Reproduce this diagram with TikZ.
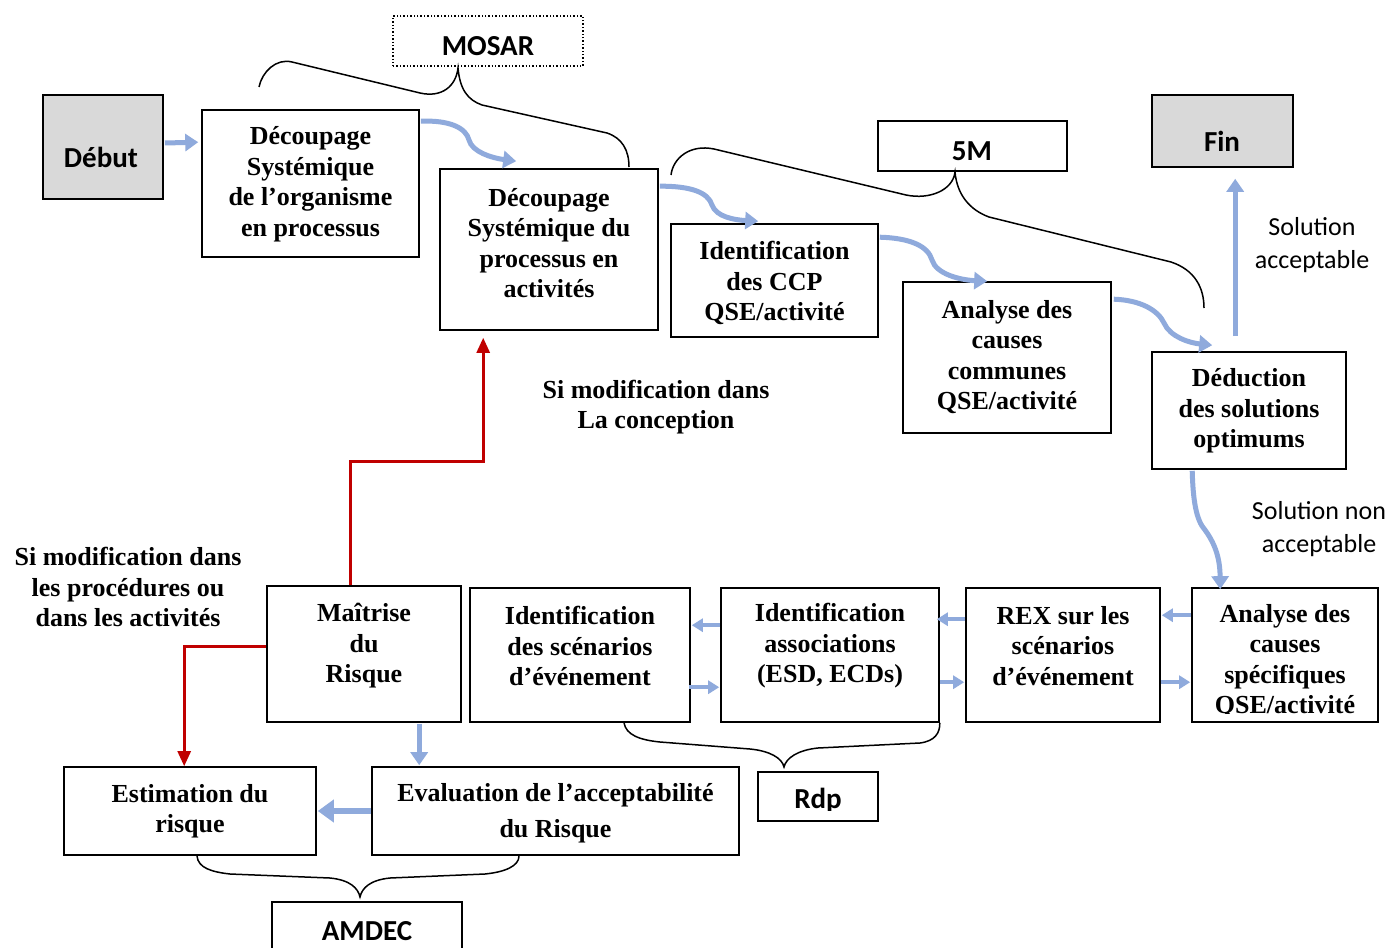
\documentclass[tikz,border=0pt]{standalone}
\usepackage{fontspec}
\setmainfont{Liberation Serif}
\newfontfamily\calib{Carlito}
\usetikzlibrary{arrows.meta,calc}
\definecolor{bluearr}{HTML}{8FAADC}
\definecolor{redarr}{HTML}{C00000}
\definecolor{grayfill}{HTML}{D9D9D9}
\begin{document}
\begin{tikzpicture}[x=1pt,y=-1pt,
  boxst/.style={draw=black, line width=1.6pt, inner sep=0pt},
  graybox/.style={boxst, fill=grayfill},
  txt/.style={font=\fontsize{26}{30.5}\selectfont\bfseries, align=center, inner sep=0pt},
  stxt/.style={font=\calib\fontsize{29}{32}\selectfont\bfseries, inner sep=0pt},
  ltxt/.style={font=\calib\fontsize{26}{32.5}\selectfont, align=center, inner sep=0pt},
  barrow/.style={draw=bluearr, line width=5pt, -{Triangle[width=17pt,length=13pt]}},
  sbarrow/.style={draw=bluearr, line width=4pt, -{Triangle[width=13pt,length=11pt]}},
  rarrow/.style={draw=redarr, line width=2.6pt, -{Triangle[width=13pt,length=15pt]}},
  bracest/.style={draw=black, line width=1.5pt}]
\useasboundingbox (0,0) rectangle (1391,947);
\clip (0,0) rectangle (1391,947);
\fill[white] (0,0) rectangle (1391,947);

% boxes
\node[graybox, minimum width=120pt, minimum height=104pt] (debut) at (103,147) {};
\node[boxst, minimum width=217pt, minimum height=147pt] (b1) at (310.5,183.5) {};
\node[boxst, minimum width=218pt, minimum height=161pt] (b2) at (549,249.5) {};
\node[boxst, minimum width=207pt, minimum height=113pt] (b3) at (774.5,280.5) {};
\node[boxst, minimum width=208pt, minimum height=151pt] (b4) at (1007,357.5) {};
\node[boxst, minimum width=194pt, minimum height=117pt] (b5) at (1249,410.5) {};
\node[graybox, minimum width=141pt, minimum height=72pt] (fin) at (1222.5,131) {};
\node[draw=black, line width=1.4pt, dotted, inner sep=0pt, minimum width=190pt, minimum height=50pt] (mosar) at (488,41) {};
\node[boxst, minimum width=189pt, minimum height=50pt] (m5) at (972.5,146) {};
\node[boxst, minimum width=194pt, minimum height=136pt] (maitrise) at (364,654) {};
\node[boxst, minimum width=220pt, minimum height=134pt] (scen) at (580,655) {};
\node[boxst, minimum width=218pt, minimum height=134pt] (assoc) at (830,655) {};
\node[boxst, minimum width=194pt, minimum height=134pt] (rex) at (1063,655) {};
\node[boxst, minimum width=186pt, minimum height=134pt] (spec) at (1285,655) {};
\node[boxst, minimum width=252pt, minimum height=88pt] (estim) at (190,811) {};
\node[boxst, minimum width=367pt, minimum height=88pt] (evalu) at (555.5,811) {};
\node[boxst, minimum width=120pt, minimum height=49pt] (rdp) at (818,796.5) {};
\node[boxst, minimum width=190pt, minimum height=70pt] (amdec) at (367,937) {};

% texts
\node[stxt] (debut-t) at (101,157) {Début};
\node[stxt] (fin-t) at (1222,141) {Fin};
\node[stxt] (mosar-t) at (488,46) {MOSAR};
\node[stxt] (m5-t) at (972,151) {5M};
\begin{scope}
\clip (rdp.north west) rectangle ($(rdp.south east)+(0,-11)$);
\node[stxt] (rdp-t) at (818,801) {Rdp};
\end{scope}
\node[stxt] (amdec-t) at (367,931) {AMDEC};
\node[txt] (b1-t) at (310.5,184) {Découpage\\Systémique\\de l’organisme\\en processus};
\node[txt] (b2-t) at (549,243) {Découpage\\Systémique du\\processus en\\activités};
\node[txt] (b3-t) at (774.5,283) {Identification\\des CCP\\QSE/activité};
\node[txt] (b4-t) at (1007,357) {Analyse des\\causes\\communes\\QSE/activité};
\node[txt] (b5-t) at (1249,411) {Déduction\\des solutions\\optimums};
\node[txt] (maitrise-t) at (364,646) {Maîtrise\\du\\Risque};
\node[txt] (scen-t) at (580,646) {Identification\\des scénarios\\d’événement};
\node[txt] (assoc-t) at (830,646) {Identification\\associations\\(ESD, ECDs)};
\node[txt] (rex-t) at (1063,646) {REX sur les\\scénarios\\d’événement};
\begin{scope}
\clip (spec.north west) rectangle ($(spec.south east)+(0,-9)$);
\node[txt] (spec-t) at (1285,661) {Analyse des\\causes\\spécifiques\\QSE/activité};
\end{scope}
\node[txt] (estim-t) at (190,811) {Estimation du\\risque};
\node[txt] (evalu-t) at (555.5,813) {Evaluation de l’acceptabilité\\[6pt]du Risque};
\node[txt] (lab1) at (656,407) {Si modification dans\\La conception};
\node[txt] (lab2) at (128,587) {Si modification dans\\les procédures ou\\dans les activités};
\node[ltxt] (lab3) at (1312,245) {Solution\\acceptable};
\node[ltxt] (lab4) at (1319,529) {Solution non\\acceptable};

% braces
\draw[bracest] (259,87) .. controls (262,72) and (276,58) .. (292,62) -- (420,93) .. controls (442,98) and (456,86) .. (458,68)
  .. controls (460,90) and (468,100) .. (482,105) -- (607,133) .. controls (622,138) and (629,150) .. (629,167);
\draw[bracest] (671,175) .. controls (673,158) and (690,144) .. (714,149) -- (906,195) .. controls (930,200) and (953,190) .. (955,172)
  .. controls (957,195) and (970,210) .. (989,217) -- (1171,262) .. controls (1195,270) and (1204,288) .. (1204,308);
\draw[bracest] ($(scen.south)+(44,0)$) .. controls (626,735) and (640,740) .. (660,742) -- (750,749) .. controls (770,751) and (782,758) .. (784,767)
  .. controls (786,758) and (798,750) .. (818,748) -- (920,743) .. controls (935,741) and (940,733) .. (assoc.south east);
\draw[bracest] (197,856) .. controls (198,868) and (212,872) .. (230,874) -- (330,878) .. controls (350,880) and (358,888) .. (360,897)
  .. controls (362,888) and (370,880) .. (390,878) -- (485,874) .. controls (505,872) and (519,866) .. (519,856);

% blue arrows
\draw[barrow] ($(debut.east)+(1,-4)$) -- ($(b1.north west)+(-3,33)$);
\draw[barrow] ($(b1.north east)+(1,12)$) .. controls (450,120) and (466,128) .. (469,140) .. controls (472,152) and (492,158) .. ($(b2.north west)+(77,-7)$);
\draw[barrow] ($(b2.north east)+(1,18)$) .. controls (690,186) and (708,192) .. (712,205) .. controls (716,217) and (735,220) .. ($(b3.north west)+(88,-2)$);
\draw[barrow] ($(b3.north east)+(1,14)$) .. controls (910,238) and (928,246) .. (932,260) .. controls (936,274) and (960,280) .. ($(b4.north west)+(85,0)$);
\draw[barrow] ($(b4.north east)+(2,18)$) .. controls (1140,300) and (1158,310) .. (1164,323) .. controls (1170,337) and (1190,343) .. ($(b5.north west)+(61,-6)$);
\draw[barrow] ($(b5.north west)+(84,-15)$) -- ($(fin.south west)+(84,11)$);
\draw[barrow] ($(b5.south west)+(41,1)$) .. controls (1193,500) and (1196,520) .. (1205,530) .. controls (1216,545) and (1220,560) .. ($(spec.north west)+(29,2)$);
\draw[sbarrow] ($(spec.north west)+(0,28)$) -- ($(rex.north east)+(1,28)$);
\draw[sbarrow] ($(rex.north east)+(0,95)$) -- ($(spec.north west)+(-1,95)$);
\draw[sbarrow] ($(rex.north west)+(0,32)$) -- ($(assoc.north east)+(-3,32)$);
\draw[sbarrow] ($(assoc.north east)+(0,95)$) -- ($(rex.north west)+(-1,95)$);
\draw[sbarrow] ($(assoc.north west)+(0,38)$) -- ($(scen.north east)+(1,38)$);
\draw[sbarrow] ($(scen.north east)+(-2,100)$) -- ($(assoc.north west)+(-1,100)$);
\draw[barrow] ($(maitrise.south west)+(153,1)$) -- ($(evalu.north west)+(48,-1)$);
\draw[draw=bluearr, line width=6pt, -{Triangle[width=22pt,length=16pt]}] (evalu.west) -- ($(estim.east)+(1,0)$);

% red arrows
\draw[rarrow] ($(maitrise.north west)+(84,0)$) -- ++(0,-124) -| ($(b2.south west)+(44,7)$);
\draw[rarrow] ($(maitrise.north west)+(0,61)$) -| ($(estim.north west)+(121,0)$);
\end{tikzpicture}
\end{document}
